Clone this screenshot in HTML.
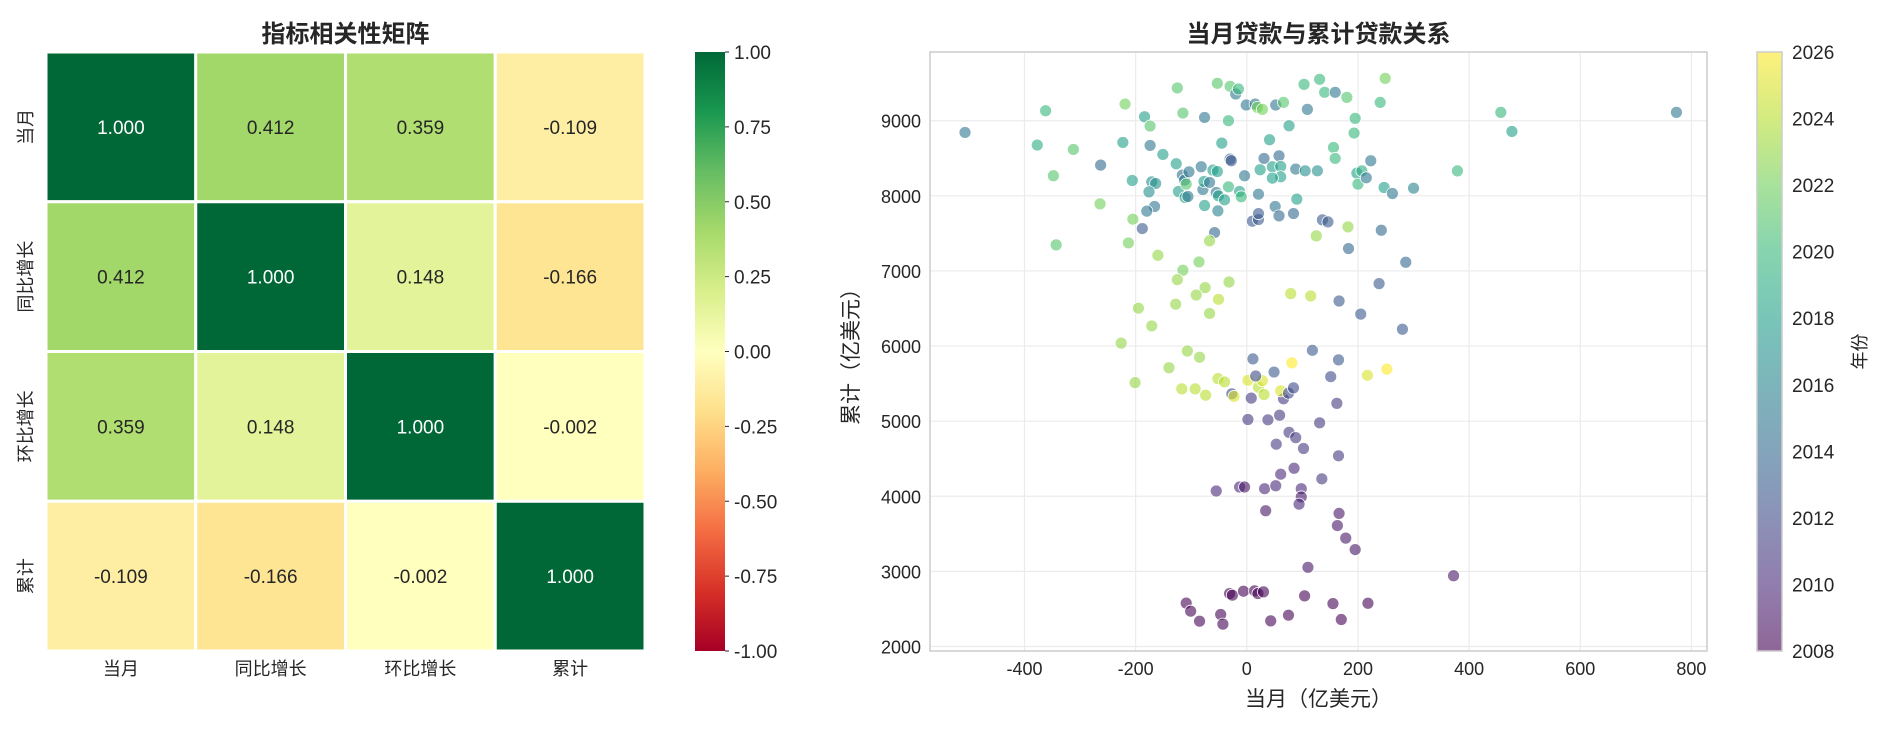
<!DOCTYPE html>
<html><head><meta charset="utf-8">
<style>
html,body{margin:0;padding:0;background:#fff;}
svg{display:block;font-family:"Liberation Sans","Noto Sans CJK SC",sans-serif;}
</style></head>
<body>
<svg id="chart" width="1887" height="731" viewBox="0 0 1887 731" xmlns="http://www.w3.org/2000/svg">
<defs>
<linearGradient id="rdylgn" x1="0" y1="1" x2="0" y2="0">
<stop offset="0" stop-color="#a50026"/><stop offset="0.1" stop-color="#d73027"/><stop offset="0.2" stop-color="#f46d43"/><stop offset="0.3" stop-color="#fdae61"/><stop offset="0.4" stop-color="#fee08b"/><stop offset="0.5" stop-color="#ffffbf"/><stop offset="0.6" stop-color="#d9ef8b"/><stop offset="0.7" stop-color="#a6d96a"/><stop offset="0.8" stop-color="#66bd63"/><stop offset="0.9" stop-color="#1a9850"/><stop offset="1" stop-color="#006837"/>
</linearGradient>
<linearGradient id="viridis" x1="0" y1="1" x2="0" y2="0">
<stop offset="0" stop-color="#440154"/><stop offset="0.111" stop-color="#482878"/><stop offset="0.222" stop-color="#3e4989"/><stop offset="0.333" stop-color="#31688e"/><stop offset="0.444" stop-color="#26828e"/><stop offset="0.556" stop-color="#1f9e89"/><stop offset="0.667" stop-color="#35b779"/><stop offset="0.778" stop-color="#6ece58"/><stop offset="0.889" stop-color="#b5de2b"/><stop offset="1" stop-color="#fde725"/>
</linearGradient>
</defs>
<g id="heat"></g>
<g id="scatter"></g>
</svg>
<script>
const NS="http://www.w3.org/2000/svg";
// ---- heatmap data ----
const heatLabels=["当月","同比增长","环比增长","累计"];
const heatRow0=[1.000,0.412,0.359,-0.109];
const heatRow1=[0.412,1.000,0.148,-0.166];
const heatRow2=[0.359,0.148,1.000,-0.002];
const heatRow3=[-0.109,-0.166,-0.002,1.000];
const heatCbTicks=[1.00,0.75,0.50,0.25,0.00,-0.25,-0.50,-0.75,-1.00];
// ---- scatter data ----
const monthly=[-507,-362,-377,-312,-348,-264,-343,-263,-219,-223,-206,-184,-174,-174,-151,-171,-164,-176,-166,-180,-205,-188,-213,-160,-125,-115,-127,-123,-116,-112,-109,-111,-106,-104,-82,-79,-76,-77,-67,-61,-53,-76,-53,-52,-55,-51,-40,-33,-45,-33,-30,-20,-15,-13,-10,-30,-28,-4,-58,-67,-1,15,19,28,21,24,31,10,21,21,41,52,66,76,46,58,61,61,46,51,58,84,90,88,105,127,109,103,131,140,159,180,156,159,125,136,146,182,183,195,193,198,207,200,215,223,240,249,247,262,300,242,286,238,457,477,379,773,-86,-115,-125,-75,-91,-32,-51,79,115,166,
-195,-128,-67,-171,-226,-107,-85,-140,-201,-117,-93,-74,-52,-40,-27,-23,2,21,28,31,11,16,49,8,66,61,75,84,81,118,151,165,162,217,252,205,280,2,38,59,131,76,88,53,102,165,85,61,135,-55,-13,-4,32,52,98,98,94,34,166,163,178,195,110,372,-109,-101,-85,-47,-43,-31,-26,-6,14,20,30,43,75,104,155,170,218];
const cumulative=[8844,9133,8676,8618,8267,7893,7347,8409,9222,8711,8204,9053,8929,8671,8551,8187,8164,8053,7858,7796,7689,7564,7373,7209,9436,9102,8427,8058,8276,8209,8156,7978,7991,8320,8387,8084,9044,8191,8178,8342,8324,7871,9498,7800,8044,8000,7947,8120,8702,9000,9458,9356,9422,8058,7987,8489,8467,8267,7511,7400,9209,9222,9178,9151,8022,8347,8498,7662,7684,7764,8747,9209,9244,8933,8387,8533,8391,8253,8236,7858,7733,7764,7956,8356,8333,8333,9151,9484,9551,9378,9378,9311,8644,8498,7467,7680,7653,7587,7298,9031,8836,8302,8333,8156,8240,8467,9244,9564,8111,8031,8102,7542,7116,6831,9111,8857,8332,9111,7120,7009,6884,6778,6680,6853,6622,6698,6667,6600,
6504,6557,6434,6268,6039,5934,5851,5711,5513,5430,5430,5346,5566,5522,5364,5329,5544,5452,5539,5355,5829,5601,5654,5307,5298,5403,5373,5443,5776,5943,5592,5816,5237,5610,5693,6425,6224,5022,5018,5079,4978,4851,4781,4693,4636,4539,4373,4294,4232,4070,4123,4123,4101,4140,4101,3991,3895,3807,3772,3610,3443,3290,3054,2942,2577,2470,2337,2426,2298,2705,2683,2736,2741,2705,2727,2341,2417,2674,2571,2359,2576];
const years=[2015,2020,2019,2021,2021,2022,2021,2014,2022,2018,2018,2018,2021,2015,2018,2017,2017,2017,2015,2015,2022,2013,2022,2023,2021,2021,2018,2018,2015,2015,2021,2018,2015,2015,2015,2015,2015,2018,2015,2018,2018,2018,2021,2016,2015,2018,2018,2020,2018,2020,2021,2015,2020,2018,2020,2013,2013,2015,2014,2023,2015,2015,2022,2022,2015,2018,2014,2013,2013,2013,2018,2015,2021,2018,2018,2014,2018,2018,2018,2015,2014,2014,2018,2015,2017,2017,2015,2020,2020,2020,2015,2021,2020,2020,2023,2013,2013,2023,2014,2020,2020,2018,2019,2020,2015,2015,2020,2022,2018,2015,2016,2014,2014,2013,2020,2018,2020,2015,2022,2022,2023,2023,2023,2023,2024,2024,2024,2013,
2023,2023,2023,2023,2023,2023,2023,2023,2023,2024,2024,2024,2024,2024,2012,2025,2025,2024,2025,2024,2013,2012,2013,2011,2011,2025,2012,2012,2026,2013,2012,2013,2011,2025,2026,2013,2013,2011,2011,2011,2011,2011,2011,2011,2011,2011,2010,2010,2011,2010,2010,2009,2010,2010,2010,2009,2010,2009,2009,2009,2009,2009,2009,2009,2008,2008,2008,2008,2008,2008,2008,2008,2008,2008,2008,2008,2008,2008,2008,2008,2008];
const xTicks=[-400,-200,0,200,400,600,800];
const yTicks=[2000,3000,4000,5000,6000,7000,8000,9000];
const yearTicks=[2008,2010,2012,2014,2016,2018,2020,2022,2024,2026];

function el(tag,attrs,parent,text){const e=document.createElementNS(NS,tag);for(const k in attrs)e.setAttribute(k,attrs[k]);if(text!==undefined)e.textContent=text;parent.appendChild(e);return e;}
function hex(h){return [parseInt(h.substr(1,2),16),parseInt(h.substr(3,2),16),parseInt(h.substr(5,2),16)];}
function interp(stops,t){t=Math.max(0,Math.min(1,t));const n=stops.length-1;const i=Math.min(n-1,Math.floor(t*n));const f=t*n-i;const a=hex(stops[i]),b=hex(stops[i+1]);return "rgb("+a.map((v,k)=>Math.round(v+(b[k]-v)*f)).join(",")+")";}
const RDYLGN=["#a50026","#d73027","#f46d43","#fdae61","#fee08b","#ffffbf","#d9ef8b","#a6d96a","#66bd63","#1a9850","#006837"];
const VIR=["#440154","#482878","#3e4989","#31688e","#26828e","#1f9e89","#35b779","#6ece58","#b5de2b","#fde725"];

// ---- heatmap ----
const heat=document.getElementById('heat');
const hx0=46,hy0=52,hw=599,hh=599,cw=hw/4,ch=hh/4;
const rows=[heatRow0,heatRow1,heatRow2,heatRow3];
const ht=el('text',{x:hx0+hw/2,y:42,'text-anchor':'middle','font-size':'24','font-weight':'bold',fill:'#262626'},heat,'指标相关性矩阵');


rows.forEach((row,r)=>{row.forEach((v,c)=>{
  const rc=el('rect',{x:hx0+c*cw,y:hy0+r*ch,width:cw,height:ch,fill:interp(RDYLGN,(v+1)/2),stroke:'#fff','stroke-width':3},heat);
  
  
  const tx=el('text',{x:hx0+c*cw+cw/2,y:hy0+r*ch+ch/2+7,'text-anchor':'middle','font-size':'19',fill:v>0.7?'#fff':'#262626'},heat,v.toFixed(3));
  
  
});});
heatLabels.forEach((l,i)=>{
  const a=el('text',{x:hx0+i*cw+cw/2,y:675,'text-anchor':'middle','font-size':'18',fill:'#262626'},heat,l);
  
  
  const cy=hy0+i*ch+ch/2;
  const b=el('text',{x:32,y:cy,'text-anchor':'middle','font-size':'18',fill:'#262626',transform:'rotate(-90 32 '+cy+')'},heat,l);
  
  
});
const hcb=el('rect',{x:695,y:hy0,width:30,height:hh,fill:'url(#rdylgn)'},heat);


heatCbTicks.forEach(t=>{const y=hy0+(1-t)/2*hh;
  el('line',{x1:725,x2:729,y1:y,y2:y,stroke:'#262626'},heat);
  const tl=el('text',{x:734,y:y+7,'font-size':'19',fill:'#262626'},heat,t.toFixed(2));
  
  
});

// ---- scatter ----
const sc=document.getElementById('scatter');
const px0=930,px1=1707,py0=52,py1=651;
const xmin=-570,xmax=828,ymin=1940,ymax=9915;
const X=v=>px0+(v-xmin)/(xmax-xmin)*(px1-px0);
const Y=v=>py1-(v-ymin)/(ymax-ymin)*(py1-py0);
xTicks.forEach(t=>{
  el('line',{x1:X(t),x2:X(t),y1:py0,y2:py1,stroke:'#ebebeb','stroke-width':1.2},sc);
  const l=el('text',{x:X(t),y:675,'text-anchor':'middle','font-size':'18',fill:'#262626'},sc,t);
  
  
});
yTicks.forEach(t=>{
  el('line',{x1:px0,x2:px1,y1:Y(t),y2:Y(t),stroke:'#ebebeb','stroke-width':1.2},sc);
  const l=el('text',{x:921,y:Y(t)+7,'text-anchor':'end','font-size':'18',fill:'#262626'},sc,t);
  
  
});
monthly.forEach((m,i)=>{
  const c=el('circle',{cx:X(m),cy:Y(cumulative[i]),r:6,fill:interp(VIR,(years[i]-2008)/18),'fill-opacity':0.6,stroke:'#fff','stroke-width':0.8},sc);
  
  
});
const frame=el('rect',{x:px0,y:py0,width:px1-px0,height:py1-py0,fill:'none',stroke:'#cccccc','stroke-width':1.5},sc);


const st=el('text',{x:(px0+px1)/2,y:42,'text-anchor':'middle','font-size':'24','font-weight':'bold',fill:'#262626'},sc,'当月贷款与累计贷款关系');


const xl=el('text',{x:(px0+px1)/2,y:706,'text-anchor':'middle','font-size':'21',fill:'#262626'},sc,'当月（亿美元）');


const yl=el('text',{x:858,y:(py0+py1)/2,'text-anchor':'middle','font-size':'21',fill:'#262626',transform:'rotate(-90 858 '+((py0+py1)/2)+')'},sc,'累计（亿美元）');


const vcb=el('rect',{x:1757,y:py0,width:25,height:py1-py0,fill:'url(#viridis)','fill-opacity':0.6,stroke:'#cccccc','stroke-width':1.5},sc);


yearTicks.forEach(t=>{const y=py1-(t-2008)/18*(py1-py0);
  const l=el('text',{x:1792,y:y+7,'font-size':'19',fill:'#262626'},sc,t);
  
  
});
const cl=el('text',{x:1866,y:(py0+py1)/2,'text-anchor':'middle','font-size':'18',fill:'#262626',transform:'rotate(-90 1866 '+((py0+py1)/2)+')'},sc,'年份');


</script>
</body></html>
